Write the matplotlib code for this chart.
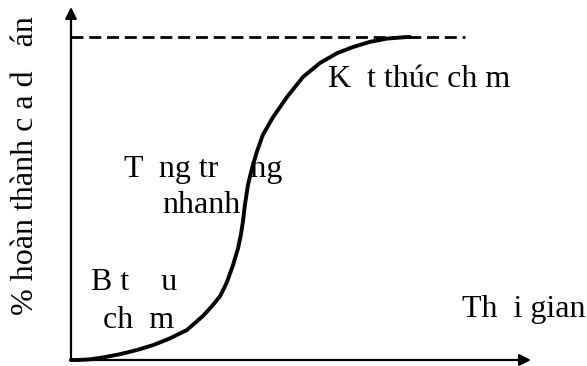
import matplotlib
matplotlib.use("Agg")
import matplotlib.pyplot as plt

# S-curve (time %, completion %)
time_vals = [0, 1.8, 5.6, 9.4, 14.5, 19.5, 24.2, 29.2, 34.2, 38.9, 41.6, 44.0, 46.0,
             47.8, 49.3, 50.1, 50.7, 51.3, 52.2, 53.4, 54.9, 56.6, 59.6, 63.7, 68.4,
             73.5, 78.5, 83.2, 88.2, 93.2, 99.1, 100]
pct_vals = [0, 0, 0.2, 0.8, 1.8, 3.1, 4.6, 6.7, 9.3, 13.6, 16.7, 19.8, 24.1,
            29.4, 34.7, 38.7, 42.7, 48.0, 54.2, 59.4, 64.7, 69.7, 75.2, 81.4, 87.6,
            92.0, 95.0, 96.9, 98.5, 99.5, 100, 100]
target_level = 100
dash_end = 116.2

ylabel = "% hoàn thành c a d   án"
xlabel = "Th  i gian"
phase_labels = ["B t    u", "ch  m", "T  ng tr    ng", "nhanh", "K  t thúc ch m"]

W, H = 587, 366
fig = plt.figure(figsize=(W / 100, H / 100), dpi=100)
ax = fig.add_axes([0, 0, 1, 1])
sx, sy = 3.39, 3.23
ox, oy = 71, 360
ax.set_xlim(-ox / sx, (W - ox) / sx)
ax.set_ylim(-(H - oy) / sy, oy / sy)
ax.axis("off")

def P(px, py):
    return ((px - ox) / sx, (oy - py) / sy)

font = dict(family="Liberation Serif", size=23, color="black")

# axes with arrows
ax.annotate("", xy=P(71, 7), xytext=P(71, 361),
            arrowprops=dict(arrowstyle="-|>", lw=1.6, color="black", mutation_scale=17,
                            shrinkA=0, shrinkB=0))
ax.annotate("", xy=P(531, 360), xytext=P(70, 360),
            arrowprops=dict(arrowstyle="-|>", lw=1.6, color="black", mutation_scale=17,
                            shrinkA=0, shrinkB=0))

# dashed target line
ax.plot([0, dash_end], [target_level, target_level], color="black", lw=2.0,
        linestyle=(0, (4.3, 2.1)), dash_capstyle="butt")

# S curve
ax.plot(time_vals, pct_vals, color="black", lw=2.8, solid_joinstyle="round",
        solid_capstyle="round")

# texts
def txt(px, py, s, **kw):
    x, y = P(px, py)
    ax.text(x, y, s, ha="left", va="baseline", **font, **kw)

txt(91, 290, phase_labels[0])
txt(103, 328, phase_labels[1])
txt(124, 177, phase_labels[2])
txt(162, 213, phase_labels[3])
txt(328, 87, phase_labels[4])
txt(462, 317, xlabel)
x, y = P(33, 315)
ax.text(x, y, ylabel, ha="left", va="baseline", rotation=90, rotation_mode="anchor", **font)

fig.savefig("out.png", dpi=100)
